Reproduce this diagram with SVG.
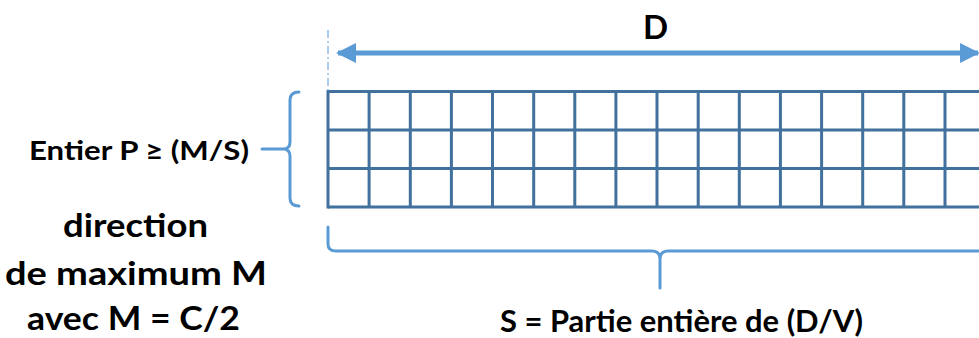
<svg xmlns="http://www.w3.org/2000/svg" width="979" height="338" viewBox="0 0 979 338">
<style>
.t{font-family:Lato,"Liberation Sans",sans-serif;font-weight:bold;fill:#000}
.grid{stroke:#41719C;stroke-width:3;fill:none}
.br{stroke:#5B9BD5;stroke-width:3;fill:none;stroke-linecap:round;stroke-linejoin:round}
</style>
<defs>
<marker id="ah" viewBox="0 0 10 10" refX="9" refY="5" markerWidth="4" markerHeight="4" orient="auto-start-reverse" markerUnits="strokeWidth">
<path d="M0,0 L10,5 L0,10 Z" fill="#5B9BD5"/>
</marker>
</defs>
<rect width="979" height="338" fill="#fff"/>
<g id="grid">
<path class="grid" d="M328,91.5H985M328,130H985M328,168.5H985M328,207H985"/>
<path class="grid" d="M328,90V208.5M369.1,91.5V207M410.3,91.5V207M451.4,91.5V207M492.5,91.5V207M533.7,91.5V207M574.8,91.5V207M615.9,91.5V207M657,91.5V207M698.2,91.5V207M739.3,91.5V207M780.4,91.5V207M821.6,91.5V207M862.7,91.5V207M903.8,91.5V207M945,91.5V207"/>
</g>
<g id="connectors">
<line x1="328" y1="30" x2="328" y2="91" stroke="#5B9BD5" stroke-width="1" stroke-dasharray="8 3 2 3"/>
<line x1="338" y1="53" x2="978" y2="53" stroke="#5B9BD5" stroke-width="5" marker-start="url(#ah)" marker-end="url(#ah)"/>
<path id="brace-left" class="br" d="M299,92 Q290,92 290,100 L290,142 Q290,149 283,149 L262,149 M283,149 Q290,149 290,156 L290,198 Q290,206 299,206"/>
<path id="brace-bottom" class="br" d="M328,227 L328,244 Q328,251 336,251 L652,251 Q660,251 660,259 L660,288 M660,259 Q660,251 668,251 L985,251"/>
</g>
<g id="label-D"><text class="t" x="655.5" y="39" font-size="33" text-anchor="middle">D</text></g>
<g id="label-P"><text class="t" x="29" y="160" font-size="27" textLength="220" lengthAdjust="spacingAndGlyphs">Entier P ≥ (M/S)</text></g>
<g id="label-direction">
<text class="t" x="63" y="237" font-size="33" textLength="145" lengthAdjust="spacingAndGlyphs">direction</text>
<text class="t" x="5" y="285" font-size="33" textLength="262" lengthAdjust="spacingAndGlyphs">de maximum M</text>
<text class="t" x="27" y="330" font-size="33" textLength="213" lengthAdjust="spacingAndGlyphs">avec M = C/2</text>
</g>
<g id="label-S"><text class="t" x="500" y="332" font-size="30" textLength="363" lengthAdjust="spacingAndGlyphs">S = Partie entière de (D/V)</text></g>
</svg>
